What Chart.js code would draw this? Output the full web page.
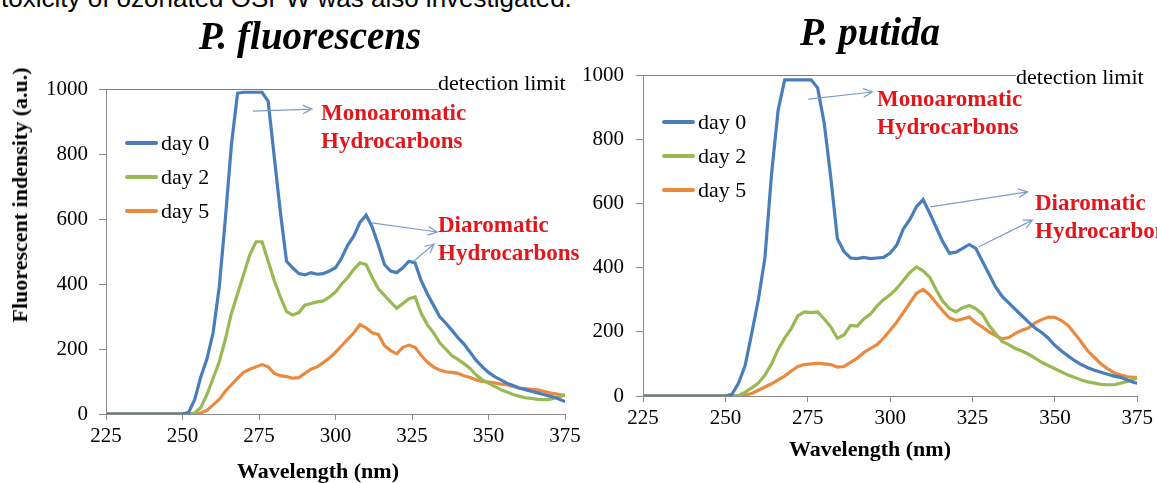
<!DOCTYPE html>
<html>
<head>
<meta charset="utf-8">
<script src="https://cdn.jsdelivr.net/npm/chart.js@4"></script>
<style>
  html, body { margin: 0; padding: 0; background: #fff; }
  body { width: 1157px; height: 483px; overflow: hidden; position: relative; }
  canvas { position: absolute; top: 0; }
  .t { position: absolute; white-space: nowrap; line-height: 1; font-family: "Liberation Serif", "Times New Roman", serif; color: #000; }
  .mid { transform: translate(-50%, -50%); }
  .title { font-size: 39px; font-weight: bold; font-style: italic; }
  .axt { font-size: 22px; font-weight: bold; }
  .det { font-size: 22px; background: #fff; padding-right: 2px; transform: translateY(-50%); }
  .note { font-size: 23px; font-weight: bold; color: #e3161c; line-height: 28px; }
  .leg { position: absolute; font-family: "Liberation Serif", "Times New Roman", serif; font-size: 22px; }
  .leg div { height: 34px; display: flex; align-items: center; }
  .leg span.ln { display: inline-block; width: 33px; height: 4px; margin-right: 3px; border-radius: 2px; }
</style>
</head>
<body>
<div class="t" style="left:1px; top:-15px; font-family:'Liberation Sans', Arial, sans-serif; font-size:26px;">toxicity of ozonated OSPW was also investigated.</div>

<canvas id="chart-1" width="620" height="483" style="left:0; width:620px; height:483px;"></canvas>
<canvas id="chart-2" width="577" height="483" style="left:580px; width:577px; height:483px;"></canvas>

<div class="t title mid" style="left:310px; top:35px;">P. fluorescens</div>
<div class="t title mid" style="left:870px; top:31px;">P. putida</div>

<div class="t axt mid" style="left:20px; top:195px; transform: translate(-50%, -50%) rotate(-90deg);">Fluorescent indensity (a.u.)</div>
<div class="t axt mid" style="left:318px; top:471px;">Wavelength (nm)</div>
<div class="t axt mid" style="left:870px; top:449px;">Wavelength (nm)</div>

<div class="t det" style="left:438px; top:83px;">detection limit</div>
<div class="t det" style="left:1016px; top:77px;">detection limit</div>

<div class="t note" style="left:321px; top:99px;">Monoaromatic<br>Hydrocarbons</div>
<div class="t note" style="left:438px; top:211px;">Diaromatic<br>Hydrocarbons</div>
<div class="t note" style="left:877px; top:85px;">Monoaromatic<br>Hydrocarbons</div>
<div class="t note" style="left:1035px; top:189px;">Diaromatic<br>Hydrocarbons</div>

<div class="leg" id="legend-1" style="left:125px; top:126px;"></div>
<div class="leg" id="legend-2" style="left:662px; top:105px;"></div>

<script>
// wavelength (nm)
const wavelengths = [225,230,235,240,245,250,252,254,256,258,260,262,264,266,268,270,272,274,276,278,
  280,282,284,286,288,290,292,294,296,298,300,302,304,306,308,310,312,314,316,318,
  320,322,324,326,328,330,332,334,336,338,340,342,344,346,348,350,352,354,356,358,
  360,362,364,366,368,370,372,374,375];

const seriesNames = ['day 0', 'day 2', 'day 5'];
const seriesColors = ['#4A7EBB', '#98B954', '#EB8A3F'];

// P. fluorescens
const fluorescensDay0 = [0,0,0,0,0,0,5,45,115,170,250,390,600,830,987,990,990,990,990,962,
  790,620,470,450,432,428,435,430,432,440,450,480,520,548,590,612,575,520,460,440,
  435,450,470,465,410,370,335,300,280,258,235,215,190,165,145,128,115,105,95,88,
  80,75,70,65,60,55,50,42,38];
const fluorescensDay2 = [0,0,0,0,0,0,0,3,20,60,110,160,230,310,370,430,490,530,530,470,
  410,360,315,305,312,335,340,345,348,360,375,400,420,445,465,460,420,385,365,345,
  325,340,355,360,310,275,250,220,200,180,168,155,140,120,105,95,85,75,68,60,
  55,50,48,45,44,45,50,55,60];
const fluorescensDay5 = [0,0,0,0,0,0,0,0,3,12,28,45,70,90,110,128,138,145,152,145,
  125,118,115,110,112,125,138,145,158,172,190,210,230,250,275,265,250,245,210,195,
  185,205,212,205,180,160,145,135,130,128,125,118,112,105,100,98,96,92,90,85,
  80,78,76,74,70,65,62,58,58];

// P. putida
const putidaDay0 = [0,0,0,0,0,0,5,40,95,195,300,430,690,890,985,985,985,985,985,960,
  850,680,490,450,430,428,432,428,430,432,445,470,520,550,590,612,570,525,480,445,
  448,460,472,460,420,380,340,310,290,270,250,230,212,198,180,158,140,125,110,98,
  88,80,74,68,62,58,50,42,40];
const putidaDay2 = [0,0,0,0,0,0,0,2,12,25,40,65,100,145,180,210,250,262,260,262,
  240,215,180,190,220,218,240,255,280,300,315,335,360,385,402,390,370,330,295,272,
  262,275,282,272,255,220,195,170,160,148,140,130,118,105,95,85,75,65,58,50,
  44,40,36,35,35,40,45,52,56];
const putidaDay5 = [0,0,0,0,0,0,0,0,3,8,18,28,38,50,62,78,92,98,100,102,
  100,98,90,92,105,118,135,148,160,180,205,230,260,290,320,332,315,290,265,243,
  235,240,246,228,215,200,188,178,182,195,205,212,228,238,246,245,235,220,195,168,
  140,120,100,85,72,65,60,58,58];

const xTicks = [225, 250, 275, 300, 325, 350, 375];
const yTicks = [0, 200, 400, 600, 800, 1000];

// annotation arrows, in data units: [x1, y1, x2, y2]
const fluorescensArrows = [[273, 932, 292.3, 938], [311.9, 588, 333.2, 560], [325.3, 468, 332.2, 523]];
const putidaArrows = [[275.2, 925, 294.6, 947], [312.2, 589, 341.7, 636], [326.8, 464, 343.2, 548]];

const serif = "'Liberation Serif', 'Times New Roman', serif";

const arrowPlugin = {
  id: 'arrows',
  afterDatasetsDraw(chart, args, opts) {
    const ctx = chart.ctx;
    const xs = chart.scales.x, ys = chart.scales.y;
    ctx.save();
    ctx.strokeStyle = '#7C9CC6';
    ctx.lineWidth = 1.2;
    opts.items.forEach(a => {
      const x1 = xs.getPixelForValue(a[0]), y1 = ys.getPixelForValue(a[1]);
      const x2 = xs.getPixelForValue(a[2]), y2 = ys.getPixelForValue(a[3]);
      const ang = Math.atan2(y2 - y1, x2 - x1);
      ctx.beginPath();
      ctx.moveTo(x1, y1);
      ctx.lineTo(x2, y2);
      ctx.moveTo(x2 - 10 * Math.cos(ang - 0.45), y2 - 10 * Math.sin(ang - 0.45));
      ctx.lineTo(x2, y2);
      ctx.lineTo(x2 - 10 * Math.cos(ang + 0.45), y2 - 10 * Math.sin(ang + 0.45));
      ctx.stroke();
    });
    ctx.restore();
  }
};

function makeChart(id, series, arrows, yWidth, padding, tickPad) {
  const ctx = document.getElementById(id);
  return new Chart(ctx, {
    type: 'line',
    data: {
      labels: wavelengths,
      datasets: series.map((s, i) => ({
        label: seriesNames[i],
        data: wavelengths.map((w, j) => ({x: w, y: s[j]})),
        borderColor: seriesColors[i],
        borderWidth: 3.2,
        pointRadius: 0,
        tension: 0,
        fill: false
      }))
    },
    options: {
      responsive: false,
      animation: false,
      layout: { padding: padding },
      plugins: {
        legend: { display: false },
        tooltip: { enabled: false },
        arrows: { items: arrows }
      },
      scales: {
        x: {
          type: 'linear',
          min: 225, max: 375,
          afterBuildTicks: axis => { axis.ticks = xTicks.map(v => ({value: v})); },
          afterFit: axis => { axis.height = 30; },
          border: { color: '#8C8C8C', width: 1 },
          grid: { drawOnChartArea: false, tickLength: 6, tickColor: '#8C8C8C' },
          ticks: { color: '#000', padding: 4, maxRotation: 0, callback: v => String(v),
                   font: { family: serif, size: 21 } }
        },
        y: {
          min: 0, max: 1000,
          afterBuildTicks: axis => { axis.ticks = yTicks.map(v => ({value: v})); },
          afterFit: axis => { axis.width = yWidth; },
          border: { color: '#8C8C8C', width: 1 },
          grid: {
            color: c => (c.tick && c.tick.value === 1000) ? '#5F83AB' : 'rgba(0,0,0,0)',
            tickLength: 7,
            tickColor: '#8C8C8C'
          },
          ticks: { color: '#000', padding: tickPad, callback: v => String(v),
                   font: { family: serif, size: 21 } }
        }
      }
    },
    plugins: [arrowPlugin]
  });
}

makeChart('chart-1', [fluorescensDay0, fluorescensDay2, fluorescensDay5], fluorescensArrows, 106,
  { left: 0, top: 89, right: 55, bottom: 39 }, 11);
makeChart('chart-2', [putidaDay0, putidaDay2, putidaDay5], putidaArrows, 63,
  { left: 0, top: 75, right: 18, bottom: 57 }, 12);

function buildLegend(id) {
  const el = document.getElementById(id);
  seriesNames.forEach((name, i) => {
    const row = document.createElement('div');
    row.innerHTML = '<span class="ln" style="background:' + seriesColors[i] + '"></span>' + name;
    el.appendChild(row);
  });
}
buildLegend('legend-1');
buildLegend('legend-2');
</script>
</body>
</html>
